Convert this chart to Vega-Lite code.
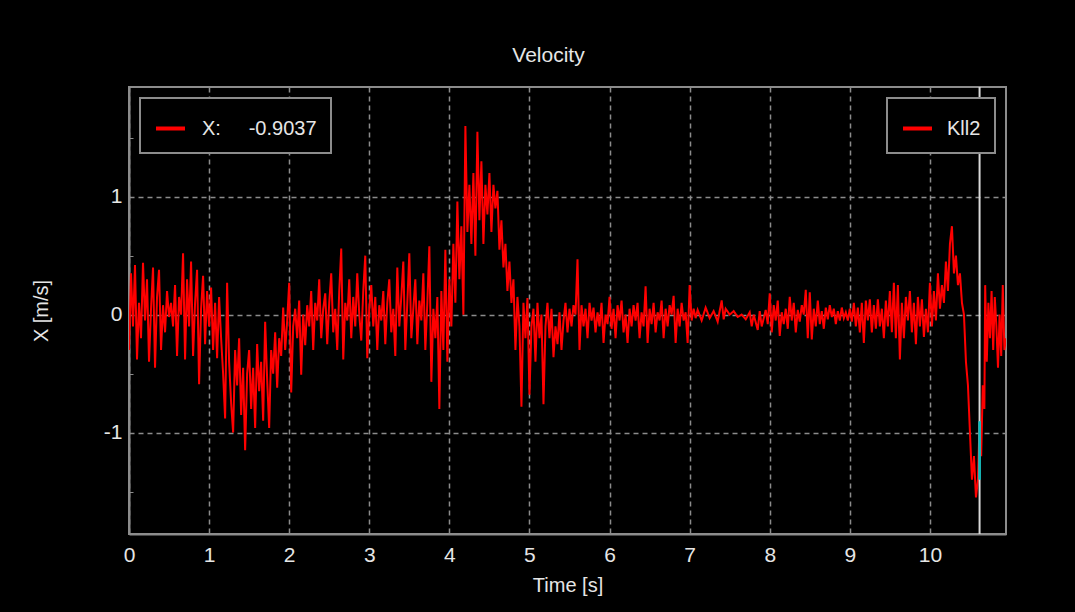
{
  "$schema": "https://vega.github.io/schema/vega-lite/v6.json",
  "width": 877,
  "height": 447,
  "autosize": "none",
  "padding": {"left": 129, "top": 87, "right": 69, "bottom": 78},
  "background": "#000000",
  "title": {"text": "Velocity", "fontSize": 21, "font": "Liberation Sans", "fontWeight": "normal", "color": "#e6e6e6", "offset": 20, "dx": -19},
  "config": {
    "view": {"stroke": "#8c8c8c", "strokeWidth": 2, "fill": "#000000"},
    "axis": {"labelFont": "Liberation Sans", "titleFont": "Liberation Sans", "labelFontSize": 21, "titleFontSize": 20, "titleFontWeight": "normal", "labelColor": "#e6e6e6", "titleColor": "#e6e6e6", "domainColor": "#8c8c8c", "domainWidth": 2, "tickColor": "#8c8c8c", "tickSize": -4, "gridColor": "#8c8c8c", "gridDash": [5, 4], "gridWidth": 1.5},
    "legend": {"labelFont": "Liberation Sans", "labelFontSize": 20, "labelColor": "#e6e6e6", "strokeColor": "#8c8c8c", "strokeWidth": 2, "fillColor": "#000000", "padding": 14, "symbolType": "stroke", "symbolSize": 841, "symbolStrokeWidth": 4, "symbolStrokeColor": "#ff0000", "labelLimit": 400, "title": null, "offset": 11}
  },
  "data": {"values": [
{"t":0,"v":-0.3},{"t":0.025,"v":0.35},{"t":0.05,"v":-0.1},{"t":0.075,"v":0.42},{"t":0.1,"v":-0.38},{"t":0.125,"v":0.1},{"t":0.15,"v":-0.2},{"t":0.175,"v":0.44},{"t":0.2,"v":-0.05},{"t":0.225,"v":0.3},{"t":0.25,"v":-0.4},{"t":0.275,"v":0.05},{"t":0.3,"v":0.4},{"t":0.325,"v":-0.45},{"t":0.35,"v":0.15},{"t":0.375,"v":0.38},{"t":0.4,"v":-0.3},{"t":0.425,"v":0.08},{"t":0.45,"v":-0.15},{"t":0.475,"v":0.2},{"t":0.5,"v":-0.02},{"t":0.525,"v":0.1},{"t":0.55,"v":-0.1},{"t":0.575,"v":0.25},{"t":0.6,"v":-0.35},{"t":0.625,"v":0.15},{"t":0.65,"v":0},{"t":0.675,"v":0.52},{"t":0.7,"v":-0.38},{"t":0.725,"v":0.3},{"t":0.75,"v":-0.1},{"t":0.775,"v":0.45},{"t":0.8,"v":-0.35},{"t":0.825,"v":0.1},{"t":0.85,"v":0.38},{"t":0.875,"v":-0.59},{"t":0.9,"v":0.05},{"t":0.925,"v":0.33},{"t":0.95,"v":-0.25},{"t":0.975,"v":0.2},
{"t":1,"v":-0.1},{"t":1.025,"v":0.23},{"t":1.05,"v":-0.3},{"t":1.075,"v":0.1},{"t":1.1,"v":-0.37},{"t":1.125,"v":0.15},{"t":1.15,"v":-0.2},{"t":1.175,"v":-0.5},{"t":1.2,"v":-0.88},{"t":1.225,"v":0.27},{"t":1.25,"v":-0.4},{"t":1.275,"v":-0.75},{"t":1.3,"v":-1},{"t":1.325,"v":-0.3},{"t":1.35,"v":-0.6},{"t":1.375,"v":-0.2},{"t":1.4,"v":-0.85},{"t":1.425,"v":-0.45},{"t":1.45,"v":-1.15},{"t":1.475,"v":-0.5},{"t":1.5,"v":-0.3},{"t":1.525,"v":-0.8},{"t":1.55,"v":-0.45},{"t":1.575,"v":-0.96},{"t":1.6,"v":-0.25},{"t":1.625,"v":-0.65},{"t":1.65,"v":-0.4},{"t":1.675,"v":-0.9},{"t":1.7,"v":-0.06},{"t":1.725,"v":-0.55},{"t":1.75,"v":-0.96},{"t":1.775,"v":-0.3},{"t":1.8,"v":-0.5},{"t":1.825,"v":-0.15},{"t":1.85,"v":-0.62},{"t":1.875,"v":-0.2},{"t":1.9,"v":-0.35},{"t":1.925,"v":0.06},{"t":1.95,"v":-0.3},{"t":1.975,"v":-0.05},
{"t":2,"v":0.27},{"t":2.025,"v":-0.66},{"t":2.05,"v":-0.1},{"t":2.075,"v":0.05},{"t":2.1,"v":-0.2},{"t":2.125,"v":0.12},{"t":2.15,"v":-0.51},{"t":2.175,"v":0},{"t":2.2,"v":-0.26},{"t":2.225,"v":0.08},{"t":2.25,"v":-0.1},{"t":2.275,"v":0.2},{"t":2.3,"v":-0.3},{"t":2.325,"v":0.1},{"t":2.35,"v":-0.05},{"t":2.375,"v":0.3},{"t":2.4,"v":-0.2},{"t":2.425,"v":0.05},{"t":2.45,"v":0.18},{"t":2.475,"v":-0.25},{"t":2.5,"v":0.1},{"t":2.525,"v":0.35},{"t":2.55,"v":-0.15},{"t":2.575,"v":0.05},{"t":2.6,"v":-0.3},{"t":2.625,"v":0.2},{"t":2.65,"v":0.56},{"t":2.675,"v":-0.38},{"t":2.7,"v":0.1},{"t":2.725,"v":-0.05},{"t":2.75,"v":0.3},{"t":2.775,"v":-0.2},{"t":2.8,"v":0.15},{"t":2.825,"v":-0.1},{"t":2.85,"v":0.35},{"t":2.875,"v":0},{"t":2.9,"v":-0.22},{"t":2.925,"v":0.2},{"t":2.95,"v":0.5},{"t":2.975,"v":-0.37},
{"t":3,"v":0.05},{"t":3.025,"v":0.25},{"t":3.05,"v":-0.1},{"t":3.075,"v":0.15},{"t":3.1,"v":-0.3},{"t":3.125,"v":0.08},{"t":3.15,"v":-0.05},{"t":3.175,"v":0.2},{"t":3.2,"v":-0.25},{"t":3.225,"v":0.1},{"t":3.25,"v":0.3},{"t":3.275,"v":-0.15},{"t":3.3,"v":0.05},{"t":3.325,"v":-0.35},{"t":3.35,"v":0.4},{"t":3.375,"v":-0.1},{"t":3.4,"v":0.15},{"t":3.425,"v":0.45},{"t":3.45,"v":-0.3},{"t":3.475,"v":0.1},{"t":3.5,"v":0.52},{"t":3.525,"v":-0.2},{"t":3.55,"v":0.05},{"t":3.575,"v":0.3},{"t":3.6,"v":-0.25},{"t":3.625,"v":0.12},{"t":3.65,"v":-0.05},{"t":3.675,"v":0.35},{"t":3.7,"v":-0.3},{"t":3.725,"v":0.1},{"t":3.75,"v":0.58},{"t":3.775,"v":-0.57},{"t":3.8,"v":0.05},{"t":3.825,"v":-0.2},{"t":3.85,"v":0.15},{"t":3.875,"v":-0.8},{"t":3.9,"v":0.2},{"t":3.925,"v":-0.3},{"t":3.95,"v":0.55},{"t":3.975,"v":-0.4},
{"t":4,"v":0.3},{"t":4.025,"v":-0.1},{"t":4.05,"v":0.6},{"t":4.075,"v":0.1},{"t":4.1,"v":0.96},{"t":4.125,"v":0.3},{"t":4.15,"v":0.75},{"t":4.175,"v":0},{"t":4.2,"v":1.6},{"t":4.225,"v":0.7},{"t":4.25,"v":1.1},{"t":4.275,"v":0.6},{"t":4.3,"v":1.2},{"t":4.325,"v":0.5},{"t":4.35,"v":1.55},{"t":4.375,"v":0.8},{"t":4.4,"v":1.3},{"t":4.425,"v":0.6},{"t":4.45,"v":1.1},{"t":4.475,"v":0.85},{"t":4.5,"v":1.2},{"t":4.525,"v":0.7},{"t":4.55,"v":1.1},{"t":4.575,"v":0.9},{"t":4.6,"v":1.05},{"t":4.625,"v":0.55},{"t":4.65,"v":0.8},{"t":4.675,"v":0.4},{"t":4.7,"v":0.6},{"t":4.725,"v":0.2},{"t":4.75,"v":0.45},{"t":4.775,"v":0.1},{"t":4.8,"v":0.3},{"t":4.825,"v":-0.3},{"t":4.85,"v":0.15},{"t":4.875,"v":-0.1},{"t":4.9,"v":-0.78},{"t":4.925,"v":0.1},{"t":4.95,"v":-0.2},{"t":4.975,"v":0.14},
{"t":5,"v":-0.68},{"t":5.025,"v":-0.1},{"t":5.05,"v":0.05},{"t":5.075,"v":-0.4},{"t":5.1,"v":0.1},{"t":5.125,"v":-0.2},{"t":5.15,"v":0},{"t":5.175,"v":-0.76},{"t":5.2,"v":-0.1},{"t":5.225,"v":0.1},{"t":5.25,"v":-0.2},{"t":5.275,"v":0.05},{"t":5.3,"v":-0.36},{"t":5.325,"v":-0.1},{"t":5.35,"v":-0.25},{"t":5.375,"v":0.02},{"t":5.4,"v":-0.3},{"t":5.425,"v":-0.05},{"t":5.45,"v":0.1},{"t":5.475,"v":-0.15},{"t":5.5,"v":0.05},{"t":5.525,"v":-0.1},{"t":5.55,"v":0.08},{"t":5.575,"v":0},{"t":5.6,"v":0.47},{"t":5.625,"v":-0.3},{"t":5.65,"v":0.08},{"t":5.675,"v":-0.1},{"t":5.7,"v":0.05},{"t":5.725,"v":-0.2},{"t":5.75,"v":0.1},{"t":5.775,"v":-0.05},{"t":5.8,"v":0.06},{"t":5.825,"v":-0.15},{"t":5.85,"v":0.02},{"t":5.875,"v":-0.1},{"t":5.9,"v":0.1},{"t":5.925,"v":-0.24},{"t":5.95,"v":0},{"t":5.975,"v":-0.08},
{"t":6,"v":0.15},{"t":6.025,"v":-0.12},{"t":6.05,"v":0.05},{"t":6.075,"v":-0.2},{"t":6.1,"v":0.08},{"t":6.125,"v":-0.05},{"t":6.15,"v":0.12},{"t":6.175,"v":-0.15},{"t":6.2,"v":0},{"t":6.225,"v":-0.24},{"t":6.25,"v":0.05},{"t":6.275,"v":-0.1},{"t":6.3,"v":0.08},{"t":6.325,"v":-0.05},{"t":6.35,"v":0.1},{"t":6.375,"v":-0.2},{"t":6.4,"v":0.02},{"t":6.425,"v":-0.1},{"t":6.45,"v":0.24},{"t":6.475,"v":-0.24},{"t":6.5,"v":0.05},{"t":6.525,"v":-0.08},{"t":6.55,"v":0.1},{"t":6.575,"v":-0.15},{"t":6.6,"v":0.02},{"t":6.625,"v":-0.05},{"t":6.65,"v":0.12},{"t":6.675,"v":-0.2},{"t":6.7,"v":0.05},{"t":6.725,"v":-0.1},{"t":6.75,"v":0.08},{"t":6.775,"v":0},{"t":6.8,"v":0.16},{"t":6.825,"v":-0.24},{"t":6.85,"v":0.05},{"t":6.875,"v":-0.1},{"t":6.9,"v":0.1},{"t":6.925,"v":-0.05},{"t":6.95,"v":0.02},{"t":6.975,"v":-0.24},
{"t":7,"v":0.25},{"t":7.025,"v":-0.05},{"t":7.05,"v":0.05},{"t":7.075,"v":-0.03},{"t":7.1,"v":0.04},{"t":7.15,"v":-0.05},{"t":7.2,"v":0.06},{"t":7.25,"v":-0.03},{"t":7.3,"v":0.03},{"t":7.35,"v":-0.06},{"t":7.4,"v":0.12},{"t":7.425,"v":-0.04},{"t":7.45,"v":0.05},{"t":7.5,"v":0},{"t":7.55,"v":0.03},{"t":7.6,"v":-0.02},{"t":7.65,"v":0},{"t":7.7,"v":-0.04},{"t":7.75,"v":0.02},{"t":7.775,"v":-0.1},{"t":7.8,"v":0},{"t":7.85,"v":-0.13},{"t":7.875,"v":0.03},{"t":7.9,"v":-0.1},{"t":7.95,"v":0.04},{"t":7.975,"v":-0.08},
{"t":8,"v":0.18},{"t":8.025,"v":-0.15},{"t":8.05,"v":0.08},{"t":8.075,"v":-0.05},{"t":8.1,"v":0.12},{"t":8.125,"v":-0.18},{"t":8.15,"v":0.02},{"t":8.175,"v":-0.08},{"t":8.2,"v":0.05},{"t":8.225,"v":-0.12},{"t":8.25,"v":0.15},{"t":8.275,"v":-0.05},{"t":8.3,"v":0.1},{"t":8.325,"v":-0.15},{"t":8.35,"v":0.04},{"t":8.375,"v":-0.06},{"t":8.4,"v":0.08},{"t":8.425,"v":0},{"t":8.45,"v":0.21},{"t":8.475,"v":-0.2},{"t":8.5,"v":0.19},{"t":8.525,"v":-0.21},{"t":8.55,"v":0.05},{"t":8.575,"v":-0.1},{"t":8.6,"v":0.12},{"t":8.625,"v":-0.08},{"t":8.65,"v":0.03},{"t":8.675,"v":-0.12},{"t":8.7,"v":0.06},{"t":8.725,"v":-0.04},{"t":8.75,"v":0.08},{"t":8.775,"v":-0.02},{"t":8.8,"v":0.05},{"t":8.825,"v":-0.08},{"t":8.85,"v":0.03},{"t":8.875,"v":-0.05},{"t":8.9,"v":0.06},{"t":8.925,"v":-0.03},{"t":8.95,"v":0.02},{"t":8.975,"v":-0.05},
{"t":9,"v":0.05},{"t":9.025,"v":-0.06},{"t":9.05,"v":0.1},{"t":9.075,"v":-0.1},{"t":9.1,"v":0.06},{"t":9.125,"v":-0.15},{"t":9.15,"v":0.1},{"t":9.175,"v":-0.24},{"t":9.2,"v":0.12},{"t":9.225,"v":-0.05},{"t":9.25,"v":0.13},{"t":9.275,"v":-0.15},{"t":9.3,"v":0.08},{"t":9.325,"v":-0.12},{"t":9.35,"v":0.13},{"t":9.375,"v":-0.1},{"t":9.4,"v":0.05},{"t":9.425,"v":-0.2},{"t":9.45,"v":0.12},{"t":9.475,"v":-0.1},{"t":9.5,"v":0.2},{"t":9.525,"v":-0.15},{"t":9.55,"v":0.27},{"t":9.575,"v":-0.2},{"t":9.6,"v":0.25},{"t":9.625,"v":-0.38},{"t":9.65,"v":0.1},{"t":9.675,"v":-0.2},{"t":9.7,"v":0.15},{"t":9.725,"v":-0.05},{"t":9.75,"v":0.2},{"t":9.775,"v":-0.15},{"t":9.8,"v":0.1},{"t":9.825,"v":-0.25},{"t":9.85,"v":0.15},{"t":9.875,"v":-0.1},{"t":9.9,"v":0.13},{"t":9.925,"v":-0.19},{"t":9.95,"v":0.05},{"t":9.975,"v":-0.15},
{"t":10,"v":0.27},{"t":10.025,"v":-0.1},{"t":10.05,"v":0.2},{"t":10.075,"v":-0.05},{"t":10.1,"v":0.35},{"t":10.125,"v":0.05},{"t":10.15,"v":0.25},{"t":10.175,"v":0.1},{"t":10.2,"v":0.45},{"t":10.225,"v":0.2},{"t":10.25,"v":0.6},{"t":10.275,"v":0.75},{"t":10.3,"v":0.35},{"t":10.325,"v":0.5},{"t":10.35,"v":0.25},{"t":10.375,"v":0.35},{"t":10.4,"v":0.1},{"t":10.425,"v":0},{"t":10.45,"v":-0.4},{"t":10.475,"v":-0.6},{"t":10.5,"v":-1},{"t":10.525,"v":-1.4},{"t":10.55,"v":-1.2},{"t":10.575,"v":-1.55},{"t":10.6,"v":-1.4},{"t":10.62,"v":-0.9037},{"t":10.64,"v":-1.2},{"t":10.66,"v":-0.6},{"t":10.68,"v":-0.8},{"t":10.69,"v":0.25},{"t":10.71,"v":-0.4},{"t":10.73,"v":0.1},{"t":10.75,"v":-0.2},{"t":10.77,"v":0.2},{"t":10.79,"v":-0.3},{"t":10.81,"v":0.15},{"t":10.83,"v":-0.1},{"t":10.85,"v":-0.45},{"t":10.87,"v":0},{"t":10.89,"v":-0.35},{"t":10.91,"v":0.25},{"t":10.93,"v":-0.3},{"t":10.95,"v":-0.2}
  ]},
  "layer": [
    {
      "mark": {"type": "line", "strokeWidth": 2, "clip": true},
      "encoding": {
        "x": {"field": "t", "type": "quantitative", "scale": {"domain": [0, 10.95], "nice": false, "zero": false},
              "axis": {"title": "Time [s]", "values": [0,1,2,3,4,5,6,7,8,9,10], "labelExpr": "'' + datum.value", "labelPadding": 14, "titlePadding": 10, "labelFlush": false}},
        "y": {"field": "v", "type": "quantitative", "scale": {"domain": [-1.86, 1.93], "nice": false, "zero": false},
              "axis": {"title": "X [m/s]", "values": [-1.5,-1,-0.5,0,0.5,1,1.5], "labelExpr": "datum.value % 1 === 0 ? '' + datum.value : ''", "gridOpacity": {"condition": {"test": "datum.value % 1 !== 0", "value": 0}, "value": 1}, "labelPadding": 11, "titlePadding": 52}},
        "color": {"datum": "Kll2", "scale": {"range": ["#ff0000"]}, "legend": {"orient": "top-right", "labelOffset": 13}},
        "strokeDash": {"datum": "X:\u00a0\u00a0\u00a0\u00a0\u00a0-0.9037", "scale": {"range": [[1, 0]]}, "legend": {"orient": "top-left", "labelOffset": 15, "symbolStrokeColor": "#ff0000"}}
      }
    },
    {
      "data": {"values": [{"t": 10.62}]},
      "mark": {"type": "rule", "color": "#d8d8d8", "strokeWidth": 2},
      "encoding": {"x": {"field": "t", "type": "quantitative"}}
    },
    {
      "data": {"values": [{"t": 10.62, "v": -0.9037, "v2": -1.4}]},
      "mark": {"type": "rule", "color": "#00bfbf", "strokeWidth": 2.5},
      "encoding": {"x": {"field": "t", "type": "quantitative"}, "y": {"field": "v", "type": "quantitative"}, "y2": {"field": "v2"}}
    }
  ]
}
